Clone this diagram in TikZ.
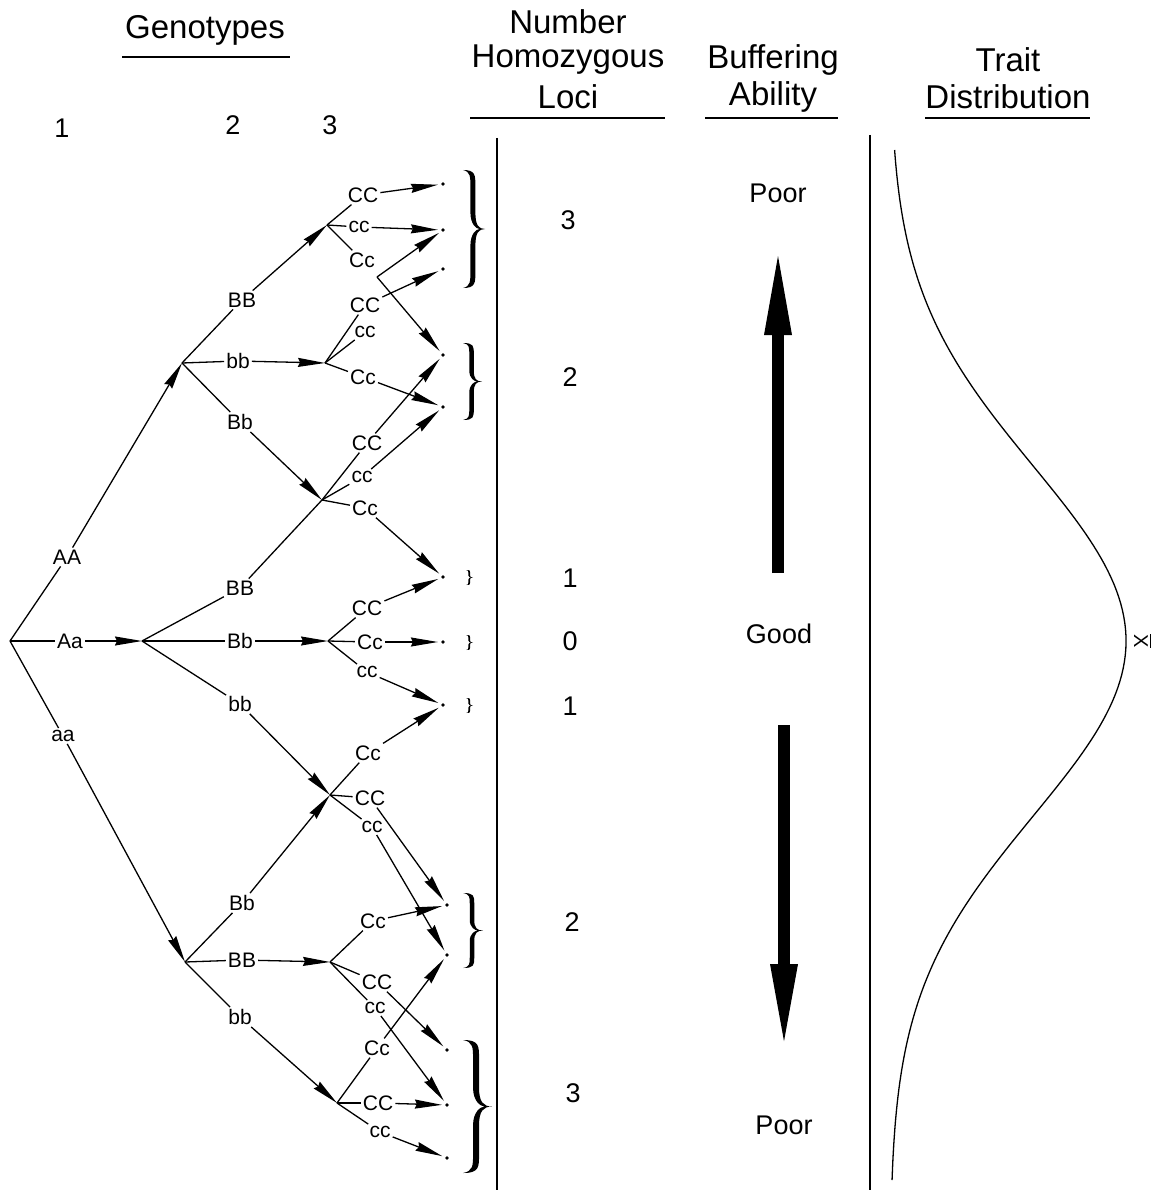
\documentclass[tikz,border=0pt]{standalone}
\usepackage{amsmath}
\usepackage{fontspec}
\setmainfont{Liberation Sans}
\usetikzlibrary{arrows.meta}
\newcommand{\fatbrace}[5]{% x0, ytop, ybottom, width, thickness
  \pgfmathsetmacro{\fbA}{#1}%
  \pgfmathsetmacro{\fbT}{#2}%
  \pgfmathsetmacro{\fbB}{#3}%
  \pgfmathsetmacro{\fbM}{(#2+#3)/2}%
  \pgfmathsetmacro{\fbW}{#4}%
  \pgfmathsetmacro{\fbP}{#1+#4}%
  \pgfmathsetmacro{\fbC}{#1+0.45*#4}%
  \pgfmathsetmacro{\fbO}{\fbC+#5/2}%
  \pgfmathsetmacro{\fbI}{\fbC-#5/2}%
  \pgfmathsetmacro{\fbR}{0.14*(#3-#2)}%
  \fill ({\fbA},{\fbT})
    .. controls ({\fbO},{\fbT}) and ({\fbO},{\fbT+0.3*\fbR}) .. ({\fbO},{\fbT+\fbR})
    -- ({\fbO},{\fbM-\fbR})
    .. controls ({\fbO},{\fbM-0.25*\fbR}) and ({\fbP-0.3*\fbW},{\fbM}) .. ({\fbP},{\fbM})
    .. controls ({\fbP-0.3*\fbW},{\fbM}) and ({\fbO},{\fbM+0.25*\fbR}) .. ({\fbO},{\fbM+\fbR})
    -- ({\fbO},{\fbB-\fbR})
    .. controls ({\fbO},{\fbB-0.3*\fbR}) and ({\fbO},{\fbB}) .. ({\fbA},{\fbB})
    .. controls ({\fbI},{\fbB-0.1*\fbR}) and ({\fbI},{\fbB-0.4*\fbR}) .. ({\fbI},{\fbB-\fbR})
    -- ({\fbI},{\fbM+\fbR})
    .. controls ({\fbI},{\fbM+0.3*\fbR}) and ({\fbC+0.15*\fbW},{\fbM}) .. ({\fbC+0.3*\fbW},{\fbM})
    .. controls ({\fbC+0.15*\fbW},{\fbM}) and ({\fbI},{\fbM-0.3*\fbR}) .. ({\fbI},{\fbM-\fbR})
    -- ({\fbI},{\fbT+\fbR})
    .. controls ({\fbI},{\fbT+0.4*\fbR}) and ({\fbI},{\fbT+0.1*\fbR}) .. cycle;%
}
\begin{document}
\begin{tikzpicture}[x=1pt,y=-1pt,
  lbl/.style={font=\fontsize{21}{21}\selectfont, inner sep=2pt},
  ln/.style={line width=1.3pt},
  ar/.style={line width=1.3pt, -{Stealth[length=27pt,width=9pt,inset=2pt]}},
  ard/.style={ar, shorten >=3pt},
  dotn/.style={circle, fill, inner sep=0pt, minimum size=3.8pt},
  hdr/.style={font=\fontsize{33}{33}\selectfont, inner sep=0pt},
  num/.style={font=\fontsize{27}{27}\selectfont, inner sep=0pt},
  rule/.style={line width=1.5pt},
]
\useasboundingbox (0,0) rectangle (1160,1190);

% ---------- headers ----------
\node[hdr] (hGen) at (205,30) {Genotypes};
\coordinate (uGa) at (122,57); \coordinate (uGb) at (290,57);
\draw[rule] (uGa) -- (uGb);
\node[num] (c1) at (62,128) {1};
\node[num] (c2) at (233,125) {2};
\node[num] (c3) at (330,125) {3};
\node[hdr] (hN1) at (568,22) {Number};
\node[hdr] (hN2) at (568,60) {Homozygous};
\node[hdr] (hN3) at (568,97) {Loci};
\coordinate (uNa) at (470,118); \coordinate (uNb) at (665,118);
\draw[rule] (uNa) -- (uNb);
\node[hdr] (hB1) at (773,60) {Buffering};
\node[hdr] (hB2) at (773,97) {Ability};
\coordinate (uBa) at (705,118); \coordinate (uBb) at (838,118);
\draw[rule] (uBa) -- (uBb);
\node[hdr] (hT1) at (1008,60) {Trait};
\node[hdr] (hT2) at (1008,97) {Distribution};
\coordinate (uTa) at (925,118); \coordinate (uTb) at (1090,118);
\draw[rule] (uTa) -- (uTb);

% ---------- column separators ----------
\coordinate (v1a) at (497,138); \coordinate (v1b) at (497,1190);
\coordinate (v2a) at (870,135); \coordinate (v2b) at (870,1190);
\draw[line width=2pt] (v1a) -- (v1b);
\draw[line width=2pt] (v2a) -- (v2b);

% ---------- tree: branch points ----------
\coordinate (R) at (10,641);
\coordinate (nA) at (182,363);
\coordinate (nAa) at (142,641);
\coordinate (na) at (185,962);
\coordinate (N1) at (327,225);
\coordinate (N2) at (325,363);
\coordinate (N3) at (322,500);
\coordinate (N4) at (328,641);
\coordinate (N5) at (330,795);
\coordinate (N6) at (330,962);
\coordinate (N7) at (337,1103);
\coordinate (K1) at (377,277);

% ---------- end dots ----------
\node[dotn] (d1) at (443,184) {};
\node[dotn] (d2) at (443,230) {};
\node[dotn] (d3) at (443,269) {};
\node[dotn] (d4) at (443,355) {};
\node[dotn] (d5) at (443,407) {};
\node[dotn] (d6) at (443,577) {};
\node[dotn] (d7) at (443,642) {};
\node[dotn] (d8) at (443,705) {};
\node[dotn] (d9) at (447,905) {};
\node[dotn] (d10) at (447,955) {};
\node[dotn] (d11) at (447,1050) {};
\node[dotn] (d12) at (447,1105) {};
\node[dotn] (d13) at (447,1158) {};

% ---------- locus A ----------
\node[lbl] (lAA) at (67,557) {AA};
\node[lbl] (lAa) at (70,641) {Aa};
\node[lbl] (laa) at (63,736) {aa};
\draw[ln] (R) -- (lAA); \draw[ar] (lAA) -- (nA);
\draw[ln] (R) -- (lAa); \draw[ar] (lAa) -- (nAa);
\draw[ln] (R) -- (laa); \draw[ar] (laa) -- (na);

% ---------- locus B ----------
\node[lbl] (lBB1) at (242,300) {BB};
\node[lbl] (lbb1) at (238,361) {bb};
\node[lbl] (lBb1) at (240,422) {Bb};
\draw[ln] (nA) -- (lBB1); \draw[ar] (lBB1) -- (N1);
\draw[ln] (nA) -- (lbb1); \draw[ar] (lbb1) -- (N2);
\draw[ln] (nA) -- (lBb1); \draw[ar] (lBb1) -- (N3);

\node[lbl] (lBB2) at (240,588) {BB};
\node[lbl] (lBb2) at (240,641) {Bb};
\node[lbl] (lbb2) at (240,704) {bb};
\draw[ln] (nAa) -- (lBB2); \draw[ln] (lBB2) -- (N3);
\draw[ln] (nAa) -- (lBb2); \draw[ar] (lBb2) -- (N4);
\draw[ln] (nAa) -- (lbb2); \draw[ar] (lbb2) -- (N5);

\node[lbl] (lBb3) at (242,903) {Bb};
\node[lbl] (lBB3) at (242,960) {BB};
\node[lbl] (lbb3) at (240,1017) {bb};
\draw[ln] (na) -- (lBb3); \draw[ar] (lBb3) -- (N5);
\draw[ln] (na) -- (lBB3); \draw[ar] (lBB3) -- (N6);
\draw[ln] (na) -- (lbb3); \draw[ar] (lbb3) -- (N7);

% ---------- locus C ----------
% N1
\node[lbl] (CC1) at (363,195) {CC};
\node[lbl] (cc1) at (359,227) {cc};
\node[lbl] (Cc1) at (362,260) {Cc};
\draw[ln] (N1) -- (CC1); \draw[ard] (CC1) -- (d1);
\draw[ln] (N1) -- (cc1); \draw[ard] (cc1) -- (d2);
\draw[ln] (N1) -- (Cc1);
\draw[ard] (K1) -- (d2);
\draw[ard] (K1) -- (d4);
% N2
\node[lbl] (CC2) at (365,305) {CC};
\node[lbl] (cc2) at (365,332) {cc};
\node[lbl] (Cc2) at (363,377) {Cc};
\draw[ln] (N2) -- (CC2); \draw[ard] (CC2) -- (d3);
\draw[ln] (N2) -- (cc2);
\draw[ln] (N2) -- (Cc2); \draw[ard] (Cc2) -- (d5);
% N3
\node[lbl] (CC3) at (367,443) {CC};
\node[lbl] (cc3) at (362,477) {cc};
\node[lbl] (Cc3) at (365,508) {Cc};
\draw[ln] (N3) -- (CC3); \draw[ard] (CC3) -- (d4);
\draw[ln] (N3) -- (cc3); \draw[ard] (cc3) -- (d5);
\draw[ln] (N3) -- (Cc3); \draw[ard] (Cc3) -- (d6);
% N4
\node[lbl] (CC4) at (367,608) {CC};
\node[lbl] (Cc4) at (370,642) {Cc};
\node[lbl] (cc4) at (367,672) {cc};
\draw[ln] (N4) -- (CC4); \draw[ard] (CC4) -- (d6);
\draw[ln] (N4) -- (Cc4); \draw[ard] (Cc4) -- (d7);
\draw[ln] (N4) -- (cc4); \draw[ard] (cc4) -- (d8);
% N5
\node[lbl] (Cc5) at (368,753) {Cc};
\node[lbl] (CC5) at (370,798) {CC};
\node[lbl] (cc5) at (372,827) {cc};
\draw[ln] (N5) -- (Cc5); \draw[ard] (Cc5) -- (d8);
\draw[ln] (N5) -- (CC5); \draw[ard] (CC5) -- (d9);
\draw[ln] (N5) -- (cc5); \draw[ard] (cc5) -- (d10);
% N6
\node[lbl] (Cc6) at (373,921) {Cc};
\node[lbl] (CC6) at (377,982) {CC};
\node[lbl] (cc6) at (375,1008) {cc};
\draw[ln] (N6) -- (Cc6); \draw[ard] (Cc6) -- (d9);
\draw[ln] (N6) -- (CC6); \draw[ard] (CC6) -- (d11);
\draw[ln] (N6) -- (cc6); \draw[ard] (cc6) -- (d12);
% N7
\node[lbl] (Cc7) at (377,1048) {Cc};
\node[lbl] (CC7) at (378,1103) {CC};
\node[lbl] (cc7) at (380,1132) {cc};
\draw[ln] (N7) -- (Cc7); \draw[ard] (Cc7) -- (d10);
\draw[ln] (N7) -- (CC7); \draw[ard] (CC7) -- (d12);
\draw[ln] (N7) -- (cc7); \draw[ard] (cc7) -- (d13);

% ---------- braces ----------
\fatbrace{463}{170}{288}{22}{5}
\fatbrace{463}{343}{420}{19}{4.5}
\fatbrace{466}{570}{585}{7}{1.8}
\fatbrace{466}{635}{650}{7}{1.8}
\fatbrace{466}{698}{713}{7}{1.8}
\fatbrace{463}{893}{968}{20}{4.5}
\fatbrace{463}{1040}{1173}{29}{6}

% ---------- numbers homozygous ----------
\node[num] (k1) at (568,220) {3};
\node[num] (k2) at (570,377) {2};
\node[num] (k3) at (570,578) {1};
\node[num] (k4) at (570,641) {0};
\node[num] (k5) at (570,706) {1};
\node[num] (k6) at (572,922) {2};
\node[num] (k7) at (573,1093) {3};

% ---------- buffering ----------
\node[num] (pTop) at (778,193) {Poor};
\node[num] (good) at (779,634) {Good};
\node[num] (pBot) at (784,1125) {Poor};
\coordinate (bUs) at (778,573); \coordinate (bUe) at (778,245);
\coordinate (bDs) at (784,725); \coordinate (bDe) at (784,1052);
\draw[line width=12pt, -{Triangle[length=90pt,width=24pt]}] (bUs) -- (bUe);
\draw[line width=12pt, -{Triangle[length=88pt,width=24pt]}] (bDs) -- (bDe);

% ---------- trait distribution ----------
\draw[line width=1.3pt] plot[domain=150:1180, samples=160, variable=\t]
  ({890+236*exp(-0.5*((\t-641)/175)*((\t-641)/175))}, \t);
\node[rotate=-90, inner sep=0pt, font=\fontsize{20}{20}\selectfont] (xbar) at (1143,641) {$\overline{\mbox{X}}$};
\end{tikzpicture}
\end{document}
